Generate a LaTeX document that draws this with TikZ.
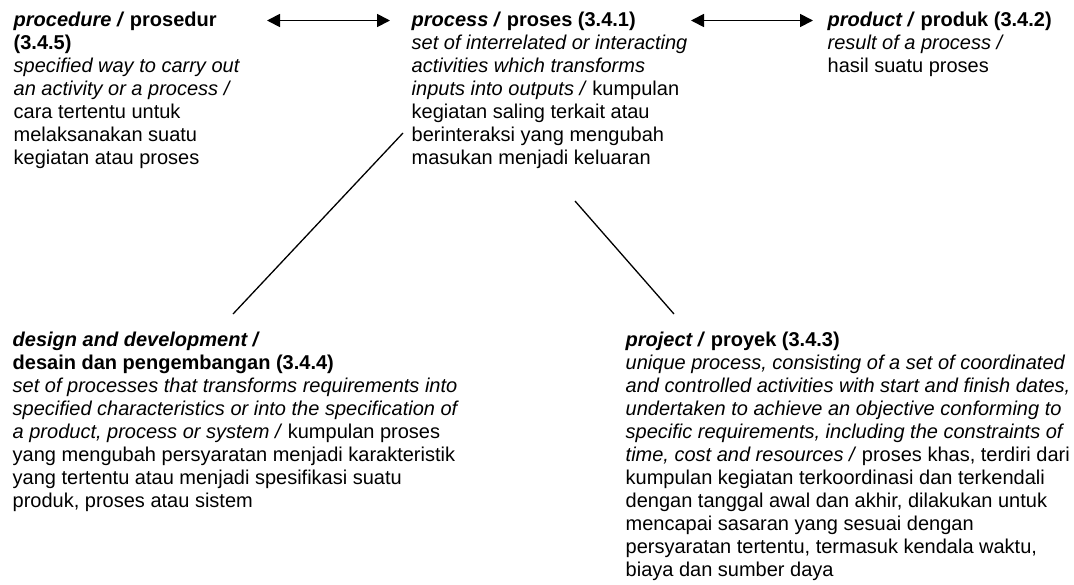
\documentclass[tikz,border=0pt]{standalone}
\usepackage{fontspec}
\setmainfont{Liberation Sans}
\usetikzlibrary{arrows.meta}
\begin{document}
\begin{tikzpicture}[x=1pt,y=-1pt,
  term/.style={anchor=north west, inner sep=0pt, align=left,
    font=\fontsize{20}{23}\selectfont},
  link/.style={line width=1.3pt},
  both/.style={line width=1.8pt,
    {Triangle[length=13pt,width=13pt]}-{Triangle[length=13pt,width=13pt]}}]
\useasboundingbox (0,0) rectangle (1074,584);

% terms
\node[term] (procedure) at (13.5,11.5) {%
  \textbf{\textit{procedure /}} \textbf{prosedur}\\
  \textbf{(3.4.5)}\\
  \textit{specified way to carry out}\\
  \textit{an activity or a process /}\\
  cara tertentu untuk\\
  melaksanakan suatu\\
  kegiatan atau proses};

\node[term] (process) at (411.5,11.5) {%
  \textbf{\textit{process /}} \textbf{proses (3.4.1)}\\
  \textit{set of interrelated or interacting}\\
  \textit{activities which transforms}\\
  \textit{inputs into outputs /} kumpulan\\
  kegiatan saling terkait atau\\
  berinteraksi yang mengubah\\
  masukan menjadi keluaran};

\node[term] (product) at (827.5,11.5) {%
  \textbf{\textit{product /}} \textbf{produk (3.4.2)}\\
  \textit{result of a process /}\\
  hasil suatu proses};

\node[term] (design) at (12.5,332) {%
  \textbf{\textit{design and development /}}\\
  \textbf{desain dan pengembangan (3.4.4)}\\
  \textit{set of processes that transforms requirements into}\\
  \textit{specified characteristics or into the specification of}\\
  \textit{a product, process or system /} kumpulan proses\\
  yang mengubah persyaratan menjadi karakteristik\\
  yang tertentu atau menjadi spesifikasi suatu\\
  produk, proses atau sistem};

\node[term] (project) at (625.5,332) {%
  \textbf{\textit{project /}} \textbf{proyek (3.4.3)}\\
  \textit{unique process, consisting of a set of coordinated}\\
  \textit{and controlled activities with start and finish dates,}\\
  \textit{undertaken to achieve an objective conforming to}\\
  \textit{specific requirements, including the constraints of}\\
  \textit{time, cost and resources /} proses khas, terdiri dari\\
  kumpulan kegiatan terkoordinasi dan terkendali\\
  dengan tanggal awal dan akhir, dilakukan untuk\\
  mencapai sasaran yang sesuai dengan\\
  persyaratan tertentu, termasuk kendala waktu,\\
  biaya dan sumber daya};

% connector ends
\coordinate (procR) at (267,20.5);
\coordinate (procL) at (390,20.5);
\coordinate (procR2) at (691,20.5);
\coordinate (prodL) at (813,20.5);
\coordinate (procSW) at (403,133);
\coordinate (desN) at (233,314);
\coordinate (procS) at (575,201);
\coordinate (projN) at (674,314);

% connectors
\draw[both] (procR) -- (procL);
\draw[both] (procR2) -- (prodL);
\draw[link] (procSW) -- (desN);
\draw[link] (procS) -- (projN);
\end{tikzpicture}
\end{document}
